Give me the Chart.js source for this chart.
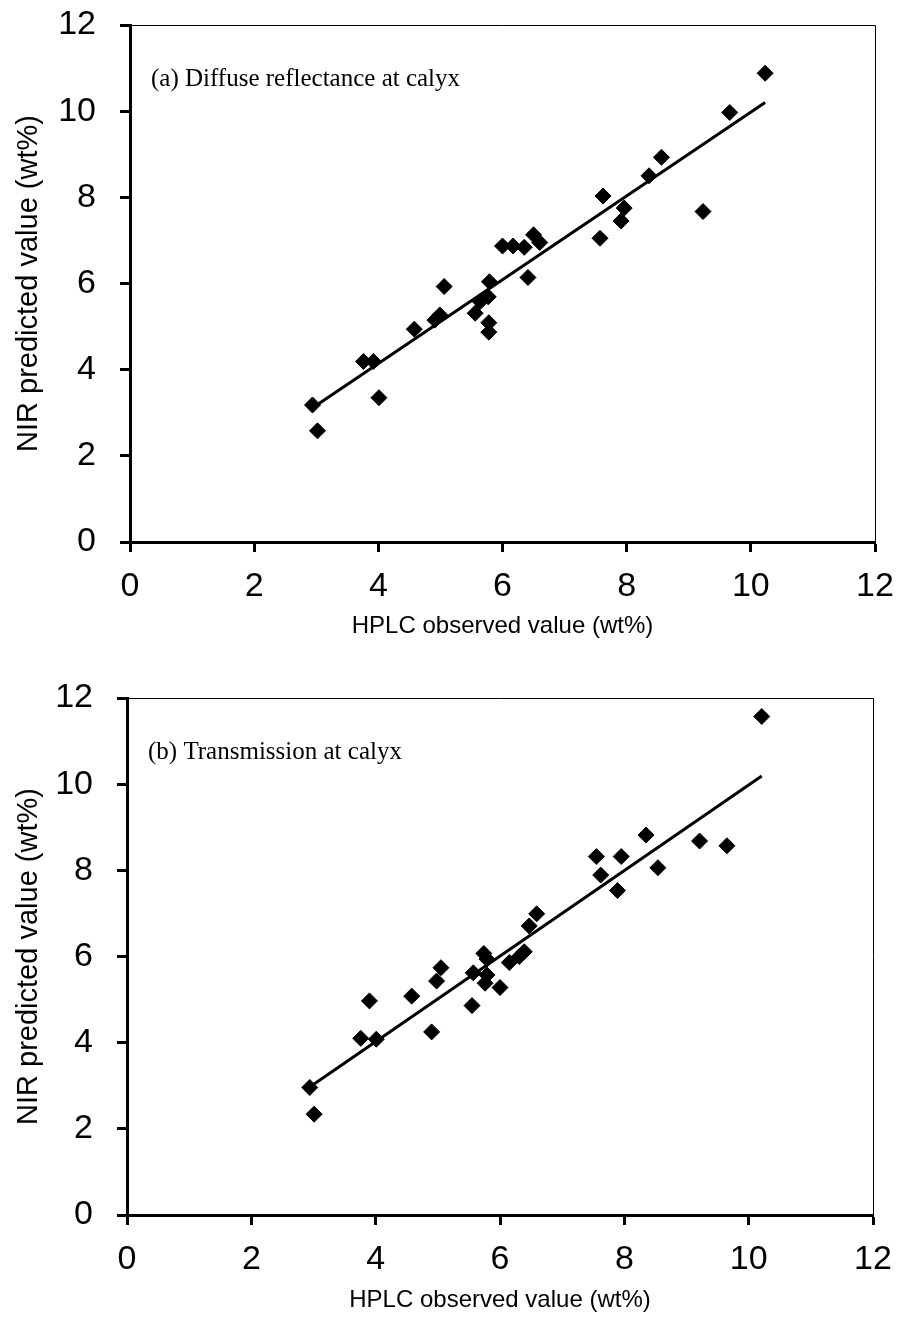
<!DOCTYPE html>
<html>
<head>
<meta charset="utf-8">
<script src="https://cdn.jsdelivr.net/npm/chart.js@4.4.1/dist/chart.umd.min.js"></script>
<style>
  body { margin: 0; background: #fff; }
  .box { position: absolute; left: 0; width: 900px; }
</style>
</head>
<body>
<div class="box" style="top:0"><canvas id="chartA" width="900" height="665"></canvas></div>
<div class="box" style="top:665px"><canvas id="chartB" width="900" height="665"></canvas></div>
<script>
// (a) diffuse reflectance at calyx
const obsA = [2.94, 3.02, 3.76, 3.92, 4.01, 4.58, 4.91, 4.99, 5.06, 5.56, 5.64, 5.77, 5.79, 5.78, 5.78,
              6.00, 6.17, 6.35, 6.41, 6.50, 6.60, 7.57, 7.62, 7.91, 7.96, 8.36, 8.56, 9.23, 9.66, 10.23];
const predA = [3.18, 2.58, 4.19, 4.19, 3.35, 4.94, 5.15, 5.27, 5.93, 5.31, 5.58, 5.69, 6.04, 5.09, 4.87,
               6.87, 6.87, 6.84, 6.14, 7.13, 6.95, 7.05, 8.03, 7.45, 7.75, 8.50, 8.93, 7.67, 9.97, 10.88];
const fitAx = [2.95, 10.23];
const fitAy = [3.12, 10.20];

// (b) transmission at calyx
const obsB = [2.94, 3.01, 3.76, 4.01, 3.90, 4.58, 4.90, 4.98, 5.05, 5.55, 5.57, 5.76, 5.74, 5.79, 5.79,
              6.00, 6.15, 6.31, 6.39, 6.47, 6.59, 7.55, 7.62, 7.89, 7.95, 8.35, 8.54, 9.21, 9.65, 10.21];
const predB = [2.96, 2.34, 4.10, 4.08, 4.97, 5.08, 4.25, 5.43, 5.74, 4.86, 5.62, 5.38, 6.07, 5.94, 5.57,
               5.28, 5.86, 6.00, 6.11, 6.71, 6.99, 8.32, 7.89, 7.53, 8.32, 8.82, 8.06, 8.68, 8.57, 11.57];
const fitBx = [2.94, 10.21];
const fitBy = [2.97, 10.19];

const xTicks = [0, 2, 4, 6, 8, 10, 12];
const yTicks = [0, 2, 4, 6, 8, 10, 12];

const sans = 'Liberation Sans, Arial, sans-serif';

function pairs(xs, ys) {
  return xs.map((x, i) => ({ x: x, y: ys[i] }));
}

// thin top/right frame plus the panel label inside the plot
const frame = {
  id: 'frame',
  afterDraw(chart, args, opts) {
    const { ctx, chartArea: a } = chart;
    ctx.save();
    ctx.strokeStyle = '#000';
    ctx.lineWidth = 1;
    ctx.beginPath();
    ctx.moveTo(a.left, a.top + 0.5);
    ctx.lineTo(a.right + 0.5, a.top + 0.5);
    ctx.lineTo(a.right + 0.5, a.bottom);
    ctx.stroke();
    ctx.fillStyle = '#000';
    ctx.font = '25px "Liberation Serif", "Times New Roman", serif';
    ctx.textBaseline = 'alphabetic';
    ctx.fillText(opts.text, a.left + 21, a.top + 61);
    ctx.restore();
  }
};

function makeChart(id, obs, pred, fx, fy, label, pad, yWidth, xHeight, titleBottom) {
  return new Chart(document.getElementById(id), {
    type: 'scatter',
    data: {
      datasets: [{
        data: pairs(obs, pred),
        pointStyle: 'rectRot',
        pointRadius: 8,
        backgroundColor: '#000',
        borderColor: '#000',
        borderWidth: 1
      }, {
        type: 'line',
        data: pairs(fx, fy),
        showLine: true,
        pointRadius: 0,
        borderColor: '#000',
        borderWidth: 3
      }]
    },
    options: {
      responsive: false,
      animation: false,
      layout: { padding: pad },
      plugins: {
        legend: { display: false },
        tooltip: { enabled: false },
        frame: { text: label }
      },
      scales: {
        x: {
          type: 'linear',
          min: 0, max: 12,
          afterBuildTicks: s => { s.ticks = xTicks.map(v => ({ value: v })); },
          afterFit: s => { s.height = xHeight; s.paddingLeft = 0; s.paddingRight = 0; },
          ticks: { color: '#000', font: { family: sans, size: 34 }, padding: 14, maxRotation: 0 },
          grid: { drawOnChartArea: false, tickLength: 10, tickWidth: 3, tickColor: '#000' },
          border: { display: true, color: '#000', width: 3 },
          title: {
            display: true, text: 'HPLC observed value (wt%)', color: '#000',
            font: { family: sans, size: 24 }, padding: { top: 0, bottom: titleBottom }
          }
        },
        y: {
          type: 'linear',
          min: 0, max: 12,
          afterBuildTicks: s => { s.ticks = yTicks.map(v => ({ value: v })); },
          afterFit: s => { s.width = yWidth; s.paddingTop = 0; s.paddingBottom = 0; },
          ticks: { color: '#000', font: { family: sans, size: 34 }, padding: 24 },
          grid: { drawOnChartArea: false, tickLength: 10, tickWidth: 3, tickColor: '#000' },
          border: { display: true, color: '#000', width: 3 },
          title: {
            display: true, text: 'NIR predicted value (wt%)', color: '#000',
            font: { family: sans, size: 29 }, padding: { top: 12, bottom: 0 }
          }
        }
      }
    },
    plugins: [frame]
  });
}

makeChart('chartA', obsA, predA, fitAx, fitAy, '(a) Diffuse reflectance at calyx',
  { top: 25, right: 25, left: 0, bottom: 0 }, 130, 123, 24.6);
makeChart('chartB', obsB, predB, fitBx, fitBy, '(b) Transmission at calyx',
  { top: 33, right: 27, left: 0, bottom: 0 }, 127, 115, 15.6);
</script>
</body>
</html>
